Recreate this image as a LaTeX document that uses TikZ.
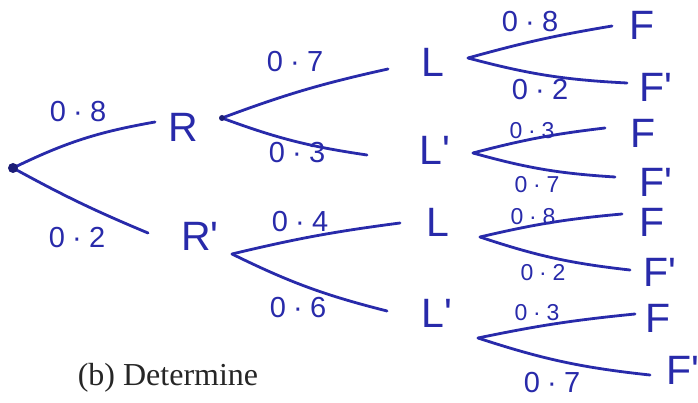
\documentclass[tikz,border=0pt]{standalone}
\usepackage{fontspec}
\setmainfont{Liberation Serif}
\newfontfamily\hand{Liberation Sans}
\definecolor{ink}{RGB}{40,42,170}
\newcommand\pd{\hspace{0.25em}·\hspace{0.25em}}
\newcommand\pr{\textquotesingle}
\tikzset{
  branch/.style={draw=ink, line width=2.8pt, line cap=round},
  probA/.style={text=ink, font=\hand\fontsize{29}{29}\selectfont, inner sep=0pt},
  probB/.style={text=ink, font=\hand\fontsize{23}{23}\selectfont, inner sep=0pt},
  evt/.style={text=ink, font=\hand\fontsize{41}{41}\selectfont, inner sep=0pt},
  captext/.style={font=\fontsize{32}{32}\selectfont, text=black!85, inner sep=0pt}
}
\begin{document}
\begin{tikzpicture}[x=1pt,y=-1pt]
\useasboundingbox (0,0) rectangle (698,403);
\fill[white] (0,0) rectangle (698,403);
% fork points and branch ends
\coordinate (root) at (13,168);
\coordinate (fR) at (222,118);
\coordinate (fRp) at (232,254);
\coordinate (fL1) at (468,58);
\coordinate (fLp1) at (473,153);
\coordinate (fL2) at (480,237);
\coordinate (fLp2) at (478,338);
\coordinate (eR) at (155,122);
\coordinate (eRp) at (148,233);
\coordinate (eL1) at (388,69);
\coordinate (eLp1) at (367,155);
\coordinate (eL2) at (400,223);
\coordinate (eLp2) at (387,311);
\coordinate (eF1) at (612,26);
\coordinate (eFp1) at (627,83);
\coordinate (eF2) at (605,128);
\coordinate (eFp2) at (615,177);
\coordinate (eF3) at (622,214);
\coordinate (eFp3) at (630,270);
\coordinate (eF4) at (635,314);
\coordinate (eFp4) at (650,375);
% event labels
\node[evt] (R) at (183,127) {R};
\node[evt] (Rp) at (200,236) {R\pr};
\node[evt] (L1) at (433,62) {L};
\node[evt] (Lp1) at (435,150) {L\pr};
\node[evt] (L2) at (438,222) {L};
\node[evt] (Lp2) at (437,313) {L\pr};
\node[evt] (F1) at (642,25) {F};
\node[evt] (Fp1) at (656,87) {F\pr};
\node[evt] (F2) at (643,133) {F};
\node[evt] (Fp2) at (656,182) {F\pr};
\node[evt] (F3) at (652,222) {F};
\node[evt] (Fp3) at (660,272) {F\pr};
\node[evt] (F4) at (658,318) {F};
\node[evt] (Fp4) at (683,370) {F\pr};
% branches
\draw[branch] (root) to[bend left=8] (eR);
\draw[branch] (root) to[bend right=3] (eRp);
\draw[branch] (fR) to[bend left=4] (eL1);
\draw[branch] (fR) to[bend right=6] (eLp1);
\draw[branch] (fRp) to[bend left=3] (eL2);
\draw[branch] (fRp) to[bend right=6] (eLp2);
\draw[branch] (fL1) to[bend left=3] (eF1);
\draw[branch] (fL1) to[bend right=6] (eFp1);
\draw[branch] (fLp1) to[bend left=4] (eF2);
\draw[branch] (fLp1) to[bend right=6] (eFp2);
\draw[branch] (fL2) to[bend left=4] (eF3);
\draw[branch] (fL2) to[bend right=6] (eFp3);
\draw[branch] (fLp2) to[bend left=3] (eF4);
\draw[branch] (fLp2) to[bend right=6] (eFp4);
\fill[ink!70!black] (root) circle (5pt);
\fill[ink!70!black] (fR) circle (3pt);
% probabilities
\node[probA] (p1) at (78,112) {0\pd 8};
\node[probA] (p2) at (77,238) {0\pd 2};
\node[probA] (p3) at (295,62) {0\pd 7};
\node[probA] (p4) at (297,153) {0\pd 3};
\node[probA] (p5) at (300,222) {0\pd 4};
\node[probA] (p6) at (298,308) {0\pd 6};
\node[probA] (p7) at (530,22) {0\pd 8};
\node[probA] (p8) at (540,90) {0\pd 2};
\node[probB] (p9) at (532,131) {0\pd 3};
\node[probB] (p10) at (537,185) {0\pd 7};
\node[probB] (p11) at (533,217) {0\pd 8};
\node[probB] (p12) at (543,273) {0\pd 2};
\node[probB] (p13) at (537,313) {0\pd 3};
\node[probA] (p14) at (552,383) {0\pd 7};
% caption
\node[captext] (caption) at (168,378) {(b) Determine};
\end{tikzpicture}
\end{document}
